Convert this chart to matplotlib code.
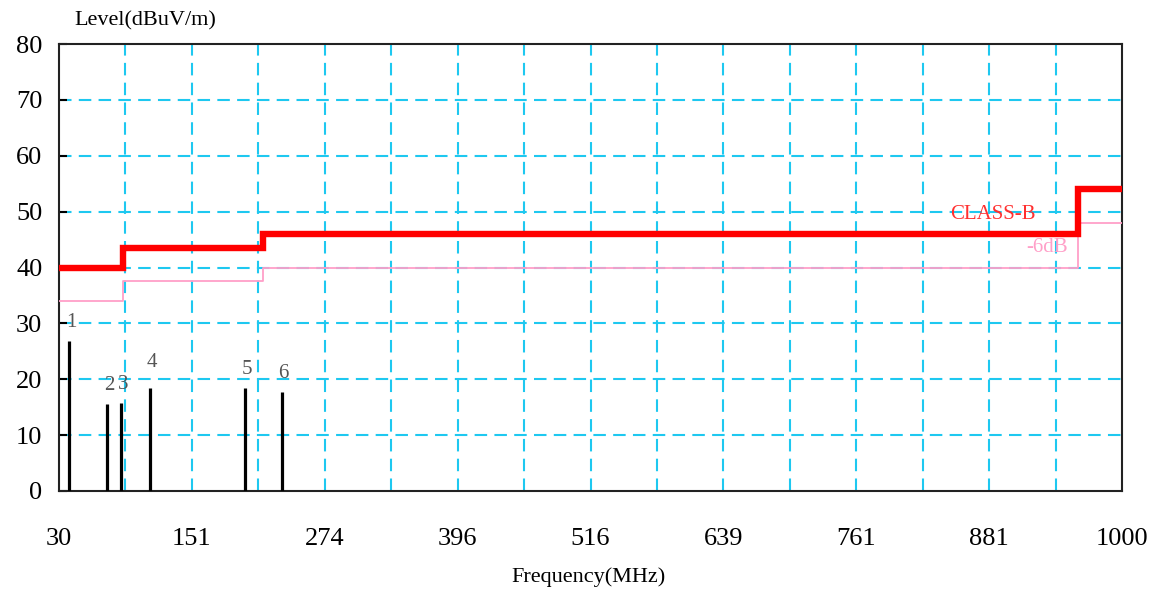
import numpy as np
import matplotlib.pyplot as plt

# limit lines (MHz, dBuV/m)
limit_freq = [30, 88, 216, 960, 1000]
class_b = [40, 43.5, 46, 54, 54]
class_b_6db = [34, 37.5, 40, 48, 48]

# measured peaks
peak_no = ['1', '2', '3', '4', '5', '6']
peak_freq = [39.4, 74.1, 86.8, 113.0, 199.7, 233.5]
peak_level = [26.8, 15.6, 15.7, 18.4, 18.4, 17.8]

x_ticks = np.linspace(30, 1000, 9)
x_labels = ['30', '151', '274', '396', '516', '639', '761', '881', '1000']

plt.rcParams['font.family'] = ['Liberation Serif', 'DejaVu Serif']

fig = plt.figure(figsize=(11.5, 5.9), dpi=100)
ax = fig.add_axes([0.0513, 0.1678, 0.9244, 0.7576])

# grid
for gx in np.linspace(30, 1000, 17)[1:-1]:
    ax.axvline(gx, color='#1ec8f0', lw=1.5, ls=(0, (6, 3.5)), zorder=1)
for gy in range(10, 80, 10):
    ax.axhline(gy, color='#1ec8f0', lw=1.5, ls=(0, (6, 3.5)), zorder=1)

ax.step(limit_freq, class_b, where='post', color='#ff0000', lw=4.6, zorder=4,
        solid_joinstyle='miter')
ax.step(limit_freq, class_b_6db, where='post', color='#ff9fc8', lw=1.3, zorder=3)

ax.vlines(peak_freq, 0, peak_level, color='black', lw=2.3, zorder=5)
for n, f, v in zip(peak_no, peak_freq, peak_level):
    dy = 4.6 if n == '4' else 3.3
    ax.text(f + 1.5, v + dy, n, ha='center', va='center', fontsize=15, color='#555555')

ax.text(843, 49.4, 'CLASS-B', color='#ff3030', fontsize=15, ha='left', va='center')
ax.text(951, 43.5, '-6dB', color='#ff9fc8', fontsize=15, ha='right', va='center')

ax.set_xlim(30, 1000)
ax.set_ylim(0, 80)
ax.set_xticks(x_ticks)
ax.set_xticklabels(x_labels)
ax.set_yticks(range(0, 90, 10))
ax.tick_params(axis='x', length=0, labelsize=19, pad=27)
ax.tick_params(axis='y', direction='in', length=6, width=1.5, labelsize=19, pad=12)
for s in ax.spines.values():
    s.set_linewidth(1.5)
    s.set_color('#222222')

fig.text(0.065, 0.965, 'Level(dBuV/m)', fontsize=16, ha='left', va='center')
fig.text(0.512, 0.022, 'Frequency(MHz)', fontsize=16, ha='center', va='center')

fig.savefig('out.png', dpi=100)
